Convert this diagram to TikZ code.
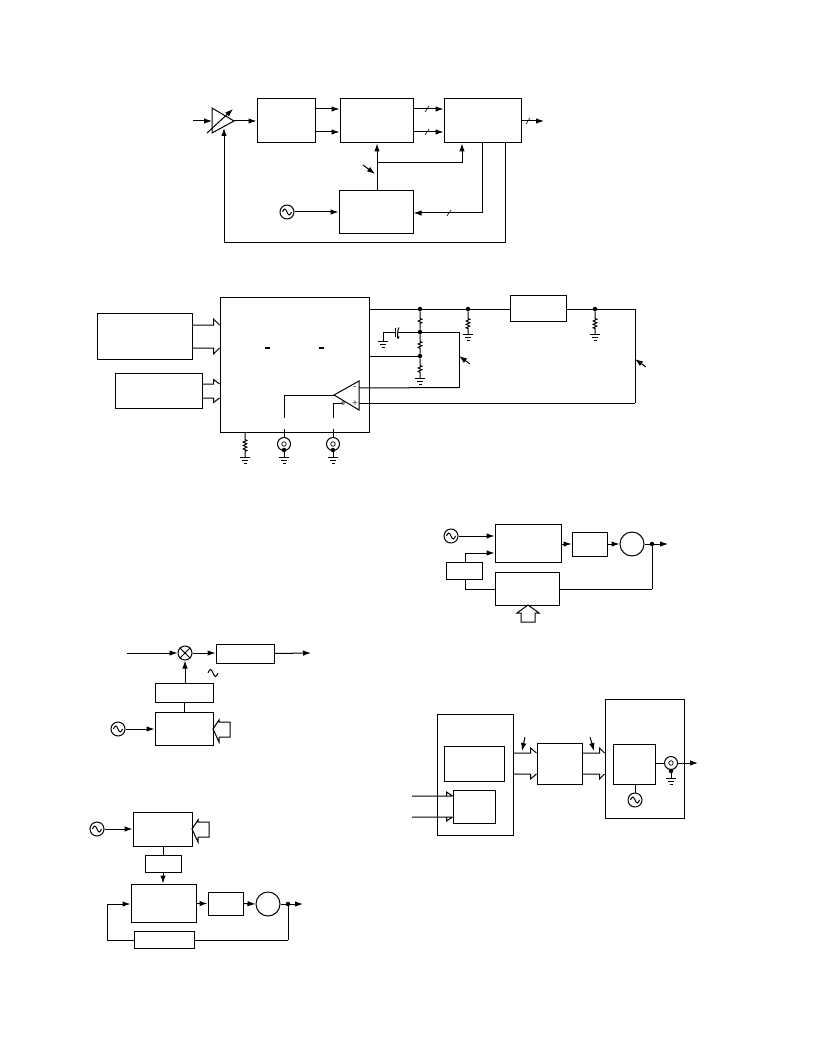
\documentclass[tikz,border=0pt]{standalone}
\usetikzlibrary{arrows.meta,decorations.pathmorphing}
\begin{document}
\begin{tikzpicture}
[x=1pt,y=-1pt,%
  lineDecorate/.style={-,line width=1pt},%
  arrowDecorate/.style={lineDecorate,-{Latex[length=8pt,width=5.5pt]}},%
  boxDecorate/.style={shape=rectangle,inner sep=0pt,draw,line width=1pt},
  oscDecorate/.style={shape=circle,inner sep=0pt,minimum size=14pt,draw,line width=1pt},
  jackDecorate/.style={shape=circle,inner sep=0pt,minimum size=13pt,draw,line width=1pt},
  dotDecorate/.style={shape=circle,inner sep=0pt,minimum size=4.5pt,fill=black},
  resDecorate/.style={lineDecorate,decorate,decoration={zigzag,amplitude=1.8pt,segment length=3.4pt,pre length=7pt,post length=5pt}}]
\useasboundingbox (0,0) rectangle (816,1056);
%% boxes
\foreach \nodename/\x/\y/\w/\h in {
  adc/286/121/58/44, dem/376.5/121/73/44, dsp/482.5/121/77/44, pll/376/212.5/74/43,
  chip/294.5/364.5/149/135, host/144.5/336/95/46, ctrl/158.5/390.5/87/35, filt/538/308/56/26,
  pfdA/528/543/66/38, lpfA/589.5/544/35/24, refA/464/570.5/36/17, divA/527/588.5/64/33,
  bpfB/245/653.5/58/19, bufB/184/692.5/58/19, synB/184/728.5/58/33,
  synC/162.5/829/59/34, refC/163/863.5/36/17, pfdC/163.5/903/65/38, lpfC/225.5/903.5/35/23, divC/164/939.5/60/17,
  txd/475/774.5/76/121, fpga/474/763.5/60/35, mem/474/806.5/42/33, intp/559.5/763.5/45/41,
  dacd/644.5/758.5/79/119, core/634/764/42/40}
{
  \node (\nodename) at (\x,\y) [boxDecorate,minimum width=\w pt,minimum height=\h pt] {};
}
%% oscillators, jacks, vcos, mixer
\foreach \nodename/\x/\y in {oscA/287/212, oscB/451/536, oscC/118/729, oscD/97/829, oscE/635/800}
{
  \node (\nodename) at (\x,\y) [oscDecorate] {};
  \draw[lineDecorate] (\nodename.center) ++(-4.5,0) sin ++(2.25,-3) cos ++(2.25,3) sin ++(2.25,3) cos ++(2.25,-3);
}
\foreach \nodename/\x/\y in {jackA/284/444, jackB/333/444, jackC/671/763}
{
  \node (\nodename) at (\x,\y) [jackDecorate] {};
  \node at (\x,\y) [shape=circle,inner sep=0pt,minimum size=4.5pt,draw,line width=0.7pt] {};
}
\node (vcoA) at (632,544) [shape=circle,inner sep=0pt,minimum size=24pt,draw,line width=1pt] {};
\node (vcoC) at (268,904) [shape=circle,inner sep=0pt,minimum size=24pt,draw,line width=1pt] {};
\node (mix) at (185,653) [oscDecorate] {};
\draw[lineDecorate] (mix.north west) -- (mix.south east) (mix.north east) -- (mix.south west);
%% dots
\foreach \nodename/\x/\y in {
  d1/420/309, d2/468/309, d3/595/309, d4/420/332, d5/420/356,
  d6/652/544, d7/288/904, d8/284/450, d9/333/450, d10/671/771}
{
  \node (\nodename) at (\x,\y) [dotDecorate] {};
}
%% free ends and corners
\foreach \nodename/\x/\y in {
  inA/193/121, ampL/212/121, ampT/212/108, ampB/212/133, ampTip/234/121, ampFb/224/128,
  varS/207/133, varE/233/109, lvlA/0/109, lvlB/0/132, lvlC/0/121, outA/544/121,
  tapA/377/163, tapB/462/163, tapC/482/213, tapD/505/243, tapE/224/243, tapF/505/143,
  noteS/363/165, noteE/375/174,
  opTip/334/395, opTop/359/381, opBot/359/410, opM/359/388, opP/359/403, opRing/343/403,
  opW1/284/418, opW2/284/429, opW3/333/418, opW4/333/429, opW5/333/403,
  g1/420/378, g2/468/334, g3/595/334, g4/245/457, g5/284/457, g6/333/457, g7/383/341, g8/671/778,
  capA/383/332, capB/395/332, capC/397.5/332,
  fbA/459/332, fbB/459/387.5, fbC/635/309, fbD/635/403,
  note2S/470/364, note2E/459/356, note3S/646/367, note3E/635/359,
  wA/465/553, wB/465/589, wC/652/589, outB/668/544, portA/528/605,
  inB/127/653, outC/311/653, outD/303/904, wD/288/940, wE/107/940, wF/107/904,
  portB/213/729, portC/192/829,
  inVU/412/796, inVL/412/817,
  note4S/525/737, note4E/522/751, note5S/590/737, note5E/594/751, outE/698/763}
{
  \coordinate (\nodename) at (\x,\y);
}
%% amplifier
\draw[lineDecorate] (ampT) -- (ampTip) -- (ampB) -- cycle;
\draw[arrowDecorate] (varS) -- (varE);
%% straight connectors with arrows
\foreach \startnode/\endnode in {
  inA/ampL, ampTip/adc.west, adc.east|-lvlA/dem.west|-lvlA, adc.east|-lvlB/dem.west|-lvlB,
  dem.east|-lvlA/dsp.west|-lvlA, dem.east|-lvlB/dsp.west|-lvlB, dsp.east|-lvlC/outA,
  oscA/pll.west|-oscA, tapC/pll.east|-tapC, noteS/noteE, note2S/note2E, note3S/note3E,
  oscB/pfdA.west|-oscB, pfdA.east|-lpfA/lpfA.west, lpfA.east/vcoA.west, d6/outB,
  inB/mix.west, mix.east/bpfB.west|-mix, bpfB.east/outC, bufB.north-|mix/mix.south,
  oscC/synB.west|-oscC, oscD/synC.west|-oscD, refC.south/pfdC.north-|refC,
  pfdC.east|-lpfC/lpfC.west, lpfC.east/vcoC.west, d7/outD, wF/pfdC.west|-wF,
  note4S/note4E, note5S/note5E, jackC.east/outE}
{
  \draw[arrowDecorate] (\startnode) -- (\endnode);
}
%% plain connectors
\foreach \startnode/\endnode in {
  chip.east|-d1/filt.west|-d1, filt.east|-d1/fbC, fbC/fbD, fbD/opP, chip.east|-d5/d5,
  capA/g7, capA/capB, capC/d4, d4/fbA, fbA/fbB, fbB/opM,
  opW2/jackA.north, opW4/jackB.north, opRing/opW5, opW5/opW3,
  vcoA.east/d6, vcoC.east/d7, d6/wC, d7/wD, bufB.south/synB.north-|bufB,
  synC.south-|refC/refC.north, pfdA.west|-wB/wB, refA.south-|wB/wB, refA.north-|wA/wA,
  d8/g5, d9/g6, d10/g8, d8/jackA.south, d9/jackB.south, d10/jackC.south,
  core.east|-jackC/jackC.west, core.south-|oscE/oscE.north, divA.east|-wC/wC,
  wD/divC.east|-wD, divC.west|-wD/wE, wE/wF}
{
  \draw[lineDecorate] (\startnode) -- (\endnode);
}
%% connectors with corners
\draw[lineDecorate] (opTip) -- (opW1 |- opTip) -- (opW1);
\draw[arrowDecorate] (pll.north -| tapA) -- (dem.south -| tapA);
\draw[arrowDecorate] (tapA) -- (tapB) -- (dsp.south -| tapB);
\draw[lineDecorate] (dsp.south -| tapC) -- (tapC);
\draw[arrowDecorate] (tapF) -- (tapD) -- (tapE) -- (ampFb);
\draw[arrowDecorate] (wA) -- (pfdA.west |- wA);
%% resistors
\foreach \startnode/\endnode in {d1/d4, d4/d5, d5/g1, d2/g2, d3/g3, chip.south-|g4/g4}
{
  \draw[resDecorate] (\startnode) -- (\endnode);
}
%% capacitor
\draw[lineDecorate] (capB) ++(0,-4.5) -- ++(0,9);
\draw[lineDecorate] (capC) ++(1.5,-4.5) .. controls +(-2,2) and +(-2,7) .. ++(0,9);
%% grounds
\foreach \nodename in {g1,g2,g3,g4,g5,g6,g7,g8}
{
  \draw[lineDecorate] (\nodename) ++(-5,0) -- ++(10,0) ++(-8,3) -- ++(6,0) ++(-4.5,3) -- ++(3,0);
}
%% wide buses
\foreach \startnode/\endnode/\yA/\yB/\fl/\dx in {
  host.east/chip.west/325/348/6/6, ctrl.east/chip.west/384/398/4.5/6,
  txd.east/intp.west/753/774/5/6, intp.east/dacd.west/753/774/5/5}
{
  \path (\endnode |- 0,\yA) ++(-\dx,0) coordinate (busU);
  \path (\endnode |- 0,\yB) ++(-\dx,0) coordinate (busL);
  \draw[lineDecorate] (\startnode |- 0,\yA) -- (busU) -- ++(0,-\fl) -- ++(\dx,\fl);
  \draw[lineDecorate] (\startnode |- 0,\yB) -- (busL) -- ++(0,\fl) -- ++(\dx,-\fl);
}
\draw[lineDecorate] (inVU) -- (mem.west |- inVU) ++(-6,0) -- ++(0,-4) -- ++(6,4);
\draw[lineDecorate] (inVL) -- (mem.west |- inVL) ++(-6,0) -- ++(0,4) -- ++(6,-4);
%% hollow arrows
\draw[lineDecorate] (portA) -- ++(11,8) -- ++(-4,0) -- ++(0,9) -- ++(-14,0) -- ++(0,-9) -- ++(-4,0) -- cycle;
\draw[lineDecorate] (portB) -- ++(6,-9) -- ++(0,2) -- ++(11,0) -- ++(0,15) -- ++(-11,0) -- ++(0,5) -- cycle;
\draw[lineDecorate] (portC) -- ++(6,-9) -- ++(0,2) -- ++(11,0) -- ++(0,15) -- ++(-11,0) -- ++(0,5) -- cycle;
%% op amp
\draw[lineDecorate] (opTip) -- (opTop) -- (opBot) -- cycle;
\node (ring) at (opRing) [shape=circle,inner sep=0pt,minimum size=3pt,draw,fill=white,line width=0.6pt] {};
\node at (355,387.5) [font=\fontsize{6}{6}\selectfont\bfseries,inner sep=0pt] {-};
\node at (355,403) [font=\fontsize{6}{6}\selectfont\bfseries,inner sep=0pt] {+};
%% bars and slashes
\foreach \x in {267,321}
{
  \draw[line width=1.3pt] (\x,348) ++(-2.5,0) -- ++(5,0);
}
\foreach \x/\y in {427/109, 427/132, 528/121, 449/213}
{
  \draw[line width=0.6pt] (\x,\y) ++(-2,3) -- ++(4,-6);
}
%% tilde
\draw[lineDecorate] (213,673) ++(-5,0) sin ++(2.5,-3.5) cos ++(2.5,3.5) sin ++(2.5,3.5) cos ++(2.5,-3.5);
\end{tikzpicture}
\end{document}
